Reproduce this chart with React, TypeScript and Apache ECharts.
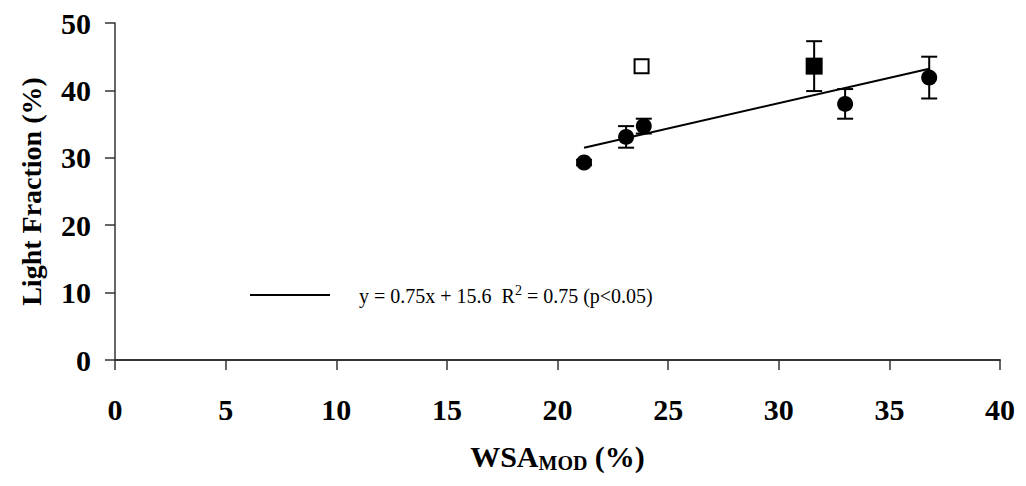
import React, { useEffect, useRef } from "react";
import * as echarts from "echarts";

const circleX = [21.2, 23.1, 23.9, 33.0, 36.8];
const circleY = [29.3, 33.1, 34.7, 38.0, 41.9];
const circleErr = [0.4, 1.6, 1.1, 2.2, 3.1];
const filledSqX = [31.6];
const filledSqY = [43.6];
const filledSqErr = [3.7];
const openSqX = [23.8];
const openSqY = [43.6];
const slope = 0.75;
const intercept = 15.6;
const xTicks = [0, 5, 10, 15, 20, 25, 30, 35, 40];
const yTicks = [0, 10, 20, 30, 40, 50];

const FONT = "Liberation Serif";

export default function App() {
  const ref = useRef<HTMLDivElement>(null);
  useEffect(() => {
    if (!ref.current) return;
    const chart = echarts.init(ref.current, null, { renderer: "svg" });
    const xMin = Math.min(...circleX);
    const xMax = Math.max(...circleX);
    const errData = [
      ...circleX.map((x, i) => [x, circleY[i], circleErr[i]]),
      ...filledSqX.map((x, i) => [x, filledSqY[i], filledSqErr[i]]),
    ];
    chart.setOption({
      animation: false,
      grid: { left: 107, right: 16, top: 11, bottom: 109, containLabel: false },
      legend: {
        show: true,
        left: 237,
        top: 270,
        itemWidth: 80,
        itemHeight: 14,
        itemGap: 0,
        data: [{ name: "trend", icon: "path://M0,0L80,0L80,2L0,2Z" }],
        formatter: () =>
          "{g|}{t|y = 0.75x + 15.6  R}{s|2}{t| = 0.75 (p<0.05)}",
        textStyle: {
          rich: {
            g: { width: 24, fontSize: 20 },
            t: { fontFamily: FONT, fontSize: 20, color: "#000", padding: [2, 0, 0, 0] },
            s: { fontFamily: FONT, fontSize: 14, color: "#000", padding: [0, 0, 10, 0], verticalAlign: "top" },
          },
        },
      },
      xAxis: {
        type: "value",
        min: 0,
        max: 40,
        interval: 5,
        splitLine: { show: false },
        axisLine: { show: true, lineStyle: { color: "#333", width: 2 } },
        axisTick: { show: true, length: 10, lineStyle: { color: "#333", width: 1.5 } },
        axisLabel: {
          fontFamily: FONT,
          fontWeight: "bold",
          fontSize: 30,
          color: "#000",
          margin: 34,
          formatter: (v: number) => (xTicks.includes(v) ? String(v) : ""),
        },
        name: "{m|WSA}{sub|MOD}{m| (%)}",
        nameLocation: "middle",
        nameGap: 79,
        nameTextStyle: {
          rich: {
            m: { fontFamily: FONT, fontWeight: "bold", fontSize: 30, color: "#000" },
            sub: { fontFamily: FONT, fontWeight: "bold", fontSize: 20, color: "#000", padding: [14, 0, 0, 0] },
          },
        },
      },
      yAxis: {
        type: "value",
        min: 0,
        max: 50,
        interval: 10,
        splitLine: { show: false },
        axisLine: { show: true, lineStyle: { color: "#333", width: 1.5 } },
        axisTick: { show: true, length: 10, lineStyle: { color: "#333", width: 1.5 } },
        axisLabel: {
          fontFamily: FONT,
          fontWeight: "bold",
          fontSize: 30,
          color: "#000",
          margin: 24,
          formatter: (v: number) => (yTicks.includes(v) ? String(v) : ""),
        },
        name: "Light Fraction (%)",
        nameLocation: "middle",
        nameGap: 70,
        nameTextStyle: { fontFamily: FONT, fontWeight: "bold", fontSize: 28, color: "#000" },
      },
      series: [
        {
          name: "trend",
          type: "line",
          symbol: "none",
          lineStyle: { color: "#000", width: 2 },
          itemStyle: { color: "#000" },
          data: [
            [xMin, slope * xMin + intercept],
            [xMax, slope * xMax + intercept],
          ],
          z: 2,
        },
        {
          name: "err",
          type: "custom",
          data: errData,
          z: 3,
          renderItem: (params: any, api: any) => {
            const x = api.value(0);
            const y = api.value(1);
            const e = api.value(2);
            const top = api.coord([x, y + e]);
            const bot = api.coord([x, y - e]);
            const hw = 8;
            const style = { stroke: "#000", lineWidth: 2 };
            return {
              type: "group",
              children: [
                { type: "line", shape: { x1: top[0], y1: top[1], x2: bot[0], y2: bot[1] }, style },
                { type: "line", shape: { x1: top[0] - hw, y1: top[1], x2: top[0] + hw, y2: top[1] }, style },
                { type: "line", shape: { x1: bot[0] - hw, y1: bot[1], x2: bot[0] + hw, y2: bot[1] }, style },
              ],
            };
          },
        },
        {
          name: "circles",
          type: "scatter",
          symbol: "circle",
          symbolSize: 16,
          itemStyle: { color: "#000", opacity: 1 },
          data: circleX.map((x, i) => [x, circleY[i]]),
          z: 4,
        },
        {
          name: "filled",
          type: "scatter",
          symbol: "rect",
          symbolSize: 17,
          itemStyle: { color: "#000", opacity: 1 },
          data: filledSqX.map((x, i) => [x, filledSqY[i]]),
          z: 4,
        },
        {
          name: "open",
          type: "scatter",
          symbol: "rect",
          symbolSize: 14,
          itemStyle: { color: "#fff", borderColor: "#000", borderWidth: 2, opacity: 1 },
          data: openSqX.map((x, i) => [x, openSqY[i]]),
          z: 4,
        },
      ],
    });
    return () => chart.dispose();
  }, []);
  return <div ref={ref} style={{ width: 1010, height: 470 }} />;
}
